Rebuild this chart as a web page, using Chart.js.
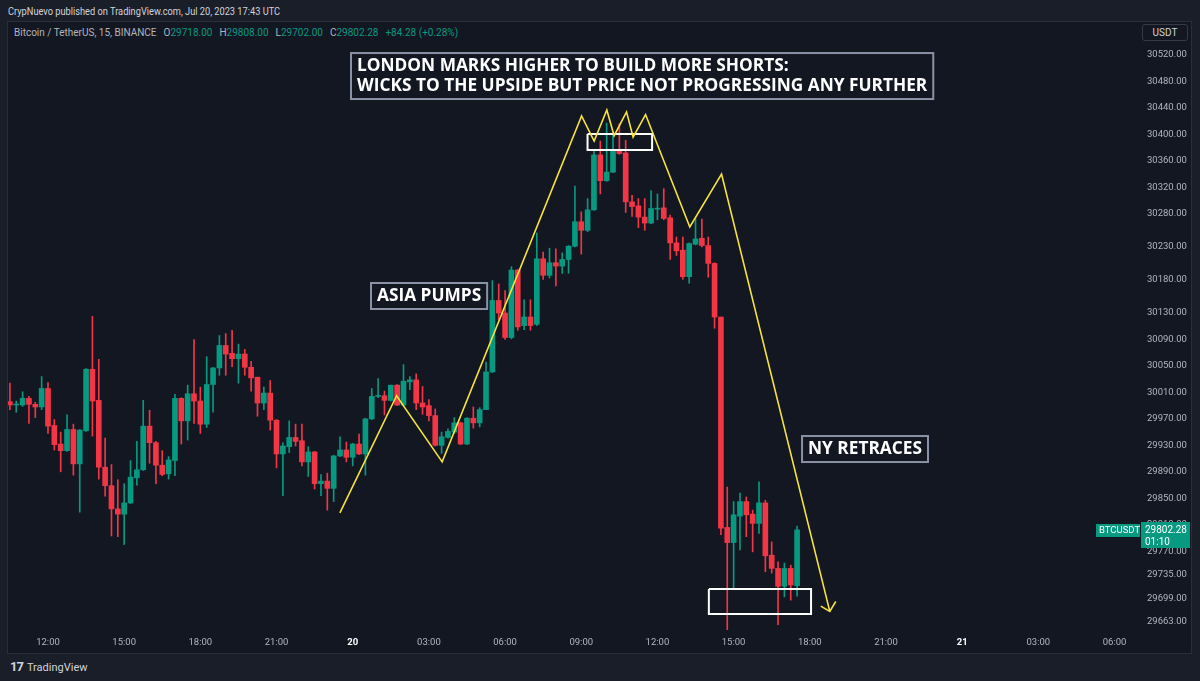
<!DOCTYPE html>
<html>
<head>
<meta charset="utf-8">
<script src="https://cdn.jsdelivr.net/npm/chart.js@4.4.0/dist/chart.umd.min.js"></script>
<style>
  html, body { margin: 0; padding: 0; background: #1a1e29; }
  body { width: 1200px; height: 681px; position: relative; overflow: hidden; font-family: Roboto, sans-serif; }
  #panel { position: absolute; left: 7px; top: 21px; width: 1185px; height: 633px; background: #131722; border: 1px solid #2a2e39; box-sizing: border-box; }
  #pub { position: absolute; left: 8px; top: 5px; font-size: 10.5px; color: #d1d4dc; white-space: nowrap; transform: scaleX(0.88); transform-origin: left center; }
  #legend { position: absolute; left: 14px; top: 27px; font-size: 10px; color: #b2b5be; white-space: nowrap; }
  #legend .v { color: #089981; }
  #legend .k { margin-left: 7px; }
  #usdt { position: absolute; left: 1142px; top: 24px; width: 46px; height: 17px; border: 1px solid #363a45; border-radius: 3px; box-sizing: border-box; color: #d1d4dc; font-size: 10px; line-height: 15px; text-align: center; }
  #footer { position: absolute; left: 10px; top: 659px; color: #d1d4dc; font-size: 11px; white-space: nowrap; }
  #footer b { font-size: 13px; letter-spacing: -1px; margin-right: 4px; }
  canvas { position: absolute; left: 0; top: 0; }
</style>
</head>
<body>
<div id="panel"></div>
<div id="pub">CrypNuevo published on TradingView.com, Jul 20, 2023 17:43 UTC</div>
<div id="legend">Bitcoin / TetherUS, 15, BINANCE<span class="k">O</span><span class="v">29718.00</span><span class="k">H</span><span class="v">29808.00</span><span class="k">L</span><span class="v">29702.00</span><span class="k">C</span><span class="v">29802.28</span><span class="k v">+84.28 (+0.28%)</span></div>
<div id="usdt">USDT</div>
<div id="footer"><b>17</b>TradingView</div>
<canvas id="chart" width="1200" height="681"></canvas>
<script>
// 15m candles, Jul 19 10:30 -> Jul 20 17:30 (slot index = candle number)
const opens = [29996, 29991, 29991, 30001, 29992, 29988, 30016, 29960, 29932, 29922,
  29954, 29902, 29952, 30045, 29998, 29897, 29869, 29834, 29826, 29843,
  29881, 29893, 29959, 29934, 29900, 29887, 29907, 30001, 29967, 30008,
  29997, 29962, 30022, 30047, 30081, 30069, 30061, 30068, 30048, 30033,
  29994, 30009, 29968, 29917, 29928, 29942, 29937, 29905, 29920, 29872,
  29876, 29865, 29914, 29923, 29912, 29932, 29917, 29970, 30004, 30005,
  29998, 30021, 29991, 30026, 30029, 29994, 29990, 29975, 29930, 29942,
  29950, 29964, 29932, 29971, 29964, 29984, 30041, 30149, 30130, 30093,
  30195, 30111, 30124, 30113, 30212, 30187, 30206, 30201, 30211, 30231,
  30268, 30255, 30286, 30369, 30330, 30343, 30377, 30372, 30298, 30292,
  30275, 30266, 30287, 30289, 30274, 30236, 30225, 30185, 30234, 30243,
  30232, 30205, 30124, 29806, 29783, 29823, 29845, 29826, 29812, 29843,
  29764, 29744, 29717, 29744, 29718];
const highs = [30024, 29997, 30011, 30004, 29995, 30034, 30025, 29969, 29950, 29976,
  29962, 29954, 30046, 30125, 30060, 29941, 29901, 29878, 29872, 29907,
  29936, 29998, 29983, 29936, 29922, 29913, 30007, 30002, 30021, 30090,
  30018, 30064, 30048, 30096, 30099, 30104, 30083, 30075, 30057, 30033,
  30018, 30028, 29969, 29934, 29967, 29962, 29962, 29928, 29921, 29886,
  29888, 29915, 29943, 29935, 29933, 29947, 29971, 30016, 30031, 30012,
  30021, 30022, 30052, 30034, 30038, 30019, 29999, 29985, 29950, 29955,
  29972, 29965, 29972, 29988, 29987, 30056, 30179, 30174, 30164, 30200,
  30196, 30150, 30150, 30251, 30222, 30228, 30227, 30221, 30232, 30322,
  30283, 30303, 30377, 30390, 30417, 30402, 30416, 30391, 30308, 30303,
  30303, 30315, 30310, 30318, 30278, 30245, 30245, 30236, 30273, 30272,
  30245, 30206, 30124, 29867, 29845, 29858, 29852, 29832, 29875, 29847,
  29784, 29754, 29752, 29749, 29808];
const lows = [29984, 29980, 29989, 29963, 29972, 29984, 29948, 29923, 29890, 29921,
  29885, 29829, 29951, 29944, 29879, 29853, 29793, 29792, 29780, 29842,
  29870, 29892, 29903, 29872, 29884, 29879, 29884, 29932, 29938, 29963,
  29948, 29957, 29980, 30036, 30036, 30049, 30024, 30036, 30012, 29974,
  29984, 29953, 29896, 29854, 29919, 29929, 29899, 29883, 29864, 29854,
  29832, 29845, 29913, 29905, 29899, 29916, 29885, 29969, 30002, 29976,
  29997, 29990, 29990, 30014, 29984, 29977, 29967, 29929, 29918, 29941,
  29948, 29931, 29931, 29956, 29958, 29984, 30040, 30120, 30090, 30091,
  30104, 30105, 30104, 30111, 30181, 30183, 30171, 30190, 30190, 30230,
  30219, 30253, 30285, 30310, 30329, 30342, 30370, 30282, 30276, 30259,
  30255, 30265, 30271, 30271, 30211, 30217, 30181, 30175, 30233, 30230,
  30184, 30107, 29795, 29648, 29715, 29772, 29792, 29769, 29797, 29739,
  29737, 29659, 29701, 29696, 29702];
const closes = [29991, 29992, 30001, 29992, 29988, 30016, 29959, 29931, 29922, 29954,
  29902, 29953, 30045, 29997, 29897, 29869, 29834, 29826, 29843, 29882,
  29893, 29959, 29934, 29900, 29886, 29908, 30001, 29967, 30008, 29997,
  29962, 30022, 30047, 30081, 30068, 30061, 30068, 30048, 30032, 29994,
  30009, 29968, 29917, 29929, 29942, 29936, 29905, 29920, 29872, 29876,
  29865, 29914, 29923, 29912, 29932, 29917, 29970, 30004, 30005, 29998,
  30021, 29991, 30027, 30029, 29994, 29988, 29975, 29930, 29943, 29951,
  29964, 29932, 29971, 29964, 29984, 30041, 30149, 30130, 30093, 30195,
  30109, 30124, 30111, 30212, 30187, 30206, 30201, 30211, 30231, 30268,
  30255, 30286, 30369, 30330, 30343, 30377, 30371, 30298, 30291, 30275,
  30266, 30288, 30288, 30273, 30236, 30224, 30185, 30235, 30242, 30232,
  30205, 30124, 29805, 29783, 29825, 29845, 29825, 29812, 29843, 29763,
  29744, 29717, 29744, 29719, 29802.28];

// time axis: one label every 12 slots (3 hours)
const tickSlots = [6, 18, 30, 42, 54, 66, 78, 90, 102, 114, 126, 138, 150, 162, 174];
const tickLabels = ['12:00', '15:00', '18:00', '21:00', '20', '03:00', '06:00', '09:00',
  '12:00', '15:00', '18:00', '21:00', '21', '03:00', '06:00'];
const dayTicks = [54, 150];

const priceTicks = [30520, 30480, 30440, 30400, 30360, 30320, 30280, 30230, 30180, 30130,
  30090, 30050, 30010, 29970, 29930, 29890, 29850, 29810, 29770, 29735, 29699, 29663];

// drawings (slot, price)
const zigzagX = [51.98, 60.91, 68.09, 90.05, 92.03, 94.03, 95.18, 97.13, 98.17, 100.13, 107.1, 112.1, 129.15];
const zigzagY = [29828, 30005, 29905, 30428, 30390, 30437, 30398, 30434, 30396, 30430, 30260, 30340, 29679];
const arrowX = [127.73, 129.15, 130.09];
const arrowY = [29687, 29679, 29694];
const topBoxX = [90.99, 101.16];
const topBoxY = [30400.6, 30376.4];
const lowBoxX = [110.1, 126.2];
const lowBoxY = [29712.9, 29675];

const notes = [
  { lines: ['LONDON MARKS HIGHER TO BUILD MORE SHORTS:', 'WICKS TO THE UPSIDE BUT PRICE NOT PROGRESSING ANY FURTHER'], x: 53.73, y: 30523 },
  { lines: ['ASIA PUMPS'], x: 56.88, y: 30175.4 },
  { lines: ['NY RETRACES'], x: 124.78, y: 29944.1 }
];

const GREEN = '#089981';
const RED = '#f23645';
const YELLOW = '#f7e43a';

const slots = opens.map((_, i) => i);
const candleColors = slots.map(i => closes[i] >= opens[i] ? GREEN : RED);

function rectPoints(xs, ys) {
  return [
    { x: xs[0], y: ys[0] }, { x: xs[1], y: ys[0] }, { x: xs[1], y: ys[1] },
    { x: xs[0], y: ys[1] }, { x: xs[0], y: ys[0] }
  ];
}

// text boxes anchored on the chart scales
const notesPlugin = {
  id: 'notes',
  afterDatasetsDraw(chart) {
    const { ctx, scales } = chart;
    ctx.save();
    ctx.font = 'bold 17.3px "Open Sans"';
    ctx.textBaseline = 'middle';
    notes.forEach(n => {
      const left = scales.x.getPixelForValue(n.x);
      const top = scales.y.getPixelForValue(n.y);
      const w = Math.max(...n.lines.map(l => ctx.measureText(l).width)) + 12;
      const h = n.lines.length * 20 + 6;
      ctx.fillStyle = '#131722';
      ctx.fillRect(left, top, w, h);
      ctx.strokeStyle = '#8a93a6';
      ctx.lineWidth = 2;
      ctx.strokeRect(left, top, w, h);
      ctx.fillStyle = '#ffffff';
      n.lines.forEach((l, k) => ctx.fillText(l, left + 6, top + 3 + 10.5 + k * 20));
    });
    ctx.restore();
  }
};

// last price label on the price scale
const lastPricePlugin = {
  id: 'lastPrice',
  afterDraw(chart) {
    const { ctx, scales } = chart;
    const last = closes[closes.length - 1];
    const y = Math.round(scales.y.getPixelForValue(last));
    ctx.save();
    ctx.fillStyle = GREEN;
    ctx.fillRect(1141, y - 8, 49, 26);
    ctx.fillRect(1096, y - 6, 44, 13);
    ctx.fillStyle = '#ffffff';
    ctx.textBaseline = 'middle';
    ctx.font = '9.5px Roboto';
    ctx.fillText('BTCUSDT', 1099, y + 0.5);
    ctx.font = '10px Roboto';
    ctx.fillText(last.toFixed(2), 1145, y);
    ctx.fillText('01:10', 1145, y + 12);
    ctx.restore();
  }
};

new Chart(document.getElementById('chart'), {
  type: 'bar',
  data: {
    datasets: [
      {
        label: 'wick',
        data: slots.map(i => ({ x: i, y: [lows[i], highs[i]] })),
        backgroundColor: candleColors,
        barThickness: 1,
        grouped: false,
        order: 3
      },
      {
        label: 'body',
        data: slots.map(i => ({ x: i, y: [opens[i], closes[i]] })),
        backgroundColor: candleColors,
        barThickness: 5,
        minBarLength: 1,
        grouped: false,
        order: 2
      },
      {
        type: 'line',
        label: 'zigzag',
        data: zigzagX.map((x, k) => ({ x, y: zigzagY[k] })),
        borderColor: YELLOW,
        borderWidth: 1.6,
        pointRadius: 0,
        tension: 0,
        order: 0
      },
      {
        type: 'line',
        label: 'arrow',
        data: arrowX.map((x, k) => ({ x, y: arrowY[k] })),
        borderColor: YELLOW,
        borderWidth: 1.6,
        pointRadius: 0,
        order: 0
      },
      {
        type: 'line',
        label: 'top box',
        data: rectPoints(topBoxX, topBoxY),
        borderColor: '#ffffff',
        borderWidth: 2,
        pointRadius: 0,
        order: 1
      },
      {
        type: 'line',
        label: 'low box',
        data: rectPoints(lowBoxX, lowBoxY),
        borderColor: '#ffffff',
        borderWidth: 2,
        pointRadius: 0,
        order: 1
      }
    ]
  },
  options: {
    responsive: false,
    animation: false,
    devicePixelRatio: 1,
    layout: { padding: { left: 8, top: 23, right: 8, bottom: 28 } },
    plugins: {
      legend: { display: false },
      tooltip: { enabled: false }
    },
    scales: {
      x: {
        type: 'linear',
        offset: false,
        min: -0.3,
        max: 177.7,
        grid: { display: false, drawTicks: false },
        border: { display: false },
        afterBuildTicks: (scale) => { scale.ticks = tickSlots.map(v => ({ value: v })); },
        afterFit: (scale) => { scale.height = 23; },
        ticks: {
          autoSkip: false,
          maxRotation: 0,
          padding: 7,
          color: (c) => dayTicks.includes(c.tick && c.tick.value) ? '#ffffff' : '#b2b5be',
          font: (c) => ({ family: 'Roboto', size: 9.5, weight: dayTicks.includes(c.tick && c.tick.value) ? 'bold' : 'normal' }),
          callback: (value) => tickLabels[tickSlots.indexOf(value)]
        }
      },
      y: {
        type: 'linear',
        position: 'right',
        min: 29650.9,
        max: 30568.4,
        grid: { display: false, drawTicks: false },
        border: { display: false },
        afterBuildTicks: (scale) => { scale.ticks = priceTicks.map(v => ({ value: v })); },
        afterFit: (scale) => { scale.width = 54; },
        ticks: {
          autoSkip: false,
          padding: 9,
          crossAlign: 'near',
          color: '#b2b5be',
          font: { family: 'Roboto', size: 9.5 },
          callback: (value) => value.toFixed(2)
        }
      }
    }
  },
  plugins: [notesPlugin, lastPricePlugin]
});
</script>
</body>
</html>
